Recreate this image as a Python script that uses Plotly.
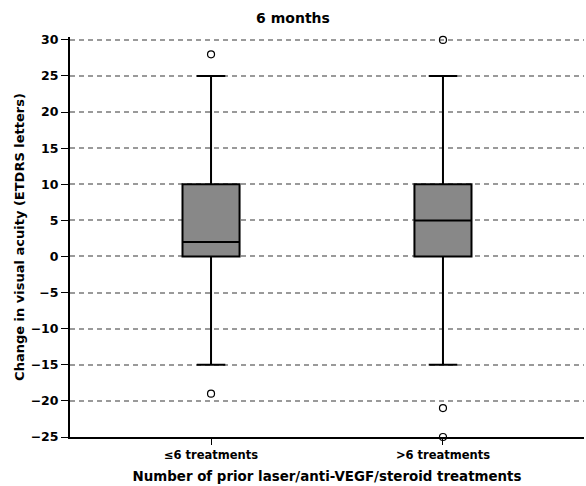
import plotly.graph_objects as go

categories = ["≤6 treatments", ">6 treatments"]
q1 = [0, 0]
median = [2, 5]
q3 = [10, 10]
lower_whisker = [-15, -15]
upper_whisker = [25, 25]
outliers = {
    "≤6 treatments": [28, -19],
    ">6 treatments": [30, -21, -25],
}
y_ticks = list(range(-25, 31, 5))

FONT = "DejaVu Sans"

fig = go.Figure()
fig.add_trace(go.Box(
    x=categories, q1=q1, median=median, q3=q3,
    lowerfence=lower_whisker, upperfence=upper_whisker,
    fillcolor="#888888", line=dict(color="black", width=2),
    width=0.246, whiskerwidth=0.5, boxpoints=False, showlegend=False,
    hoverinfo="skip",
))
ox, oy = [], []
for c in categories:
    for v in outliers[c]:
        ox.append(c)
        oy.append(v)
fig.add_trace(go.Scatter(
    x=ox, y=oy, mode="markers", showlegend=False,
    marker=dict(symbol="circle-open", size=7, color="black", line=dict(width=1.2)),
    cliponaxis=False,
))

fig.update_layout(
    width=586, height=486,
    margin=dict(l=70, r=2, t=37, b=49),
    paper_bgcolor="white", plot_bgcolor="white",
    font=dict(family=FONT, color="black", size=12),
    title=dict(text="<b>6 months</b>", x=0.5, xanchor="center", y=0.963, yanchor="middle",
               font=dict(size=14, family=FONT)),
)
fig.update_xaxes(
    type="category", range=[-0.608, 1.608],
    showline=True, linecolor="black", linewidth=2,
    ticks="outside", ticklen=6, tickcolor="black", tickwidth=1,
    showgrid=False, zeroline=False,
    tickvals=categories, ticktext=[f"<b>{c}</b>" for c in categories],
    tickfont=dict(size=11.5, family=FONT),
    title=dict(text="<b>Number of prior laser/anti-VEGF/steroid treatments</b>",
               font=dict(size=13.4, family=FONT), standoff=11),
)
fig.update_yaxes(
    range=[-25, 30.4], tickvals=y_ticks,
    ticktext=[f"<b>{v}</b>".replace("-", "−") for v in y_ticks],
    showline=True, linecolor="black", linewidth=2,
    ticks="outside", ticklen=7, tickcolor="black", tickwidth=1,
    showgrid=True, gridcolor="#9a9a9a", griddash="5px,4px", gridwidth=1.5,
    zeroline=False,
    tickfont=dict(size=12.5, family=FONT),
    title=dict(text="<b>Change in visual acuity (ETDRS letters)</b>",
               font=dict(size=13, family=FONT), standoff=3),
)

fig.write_html("out.html")
